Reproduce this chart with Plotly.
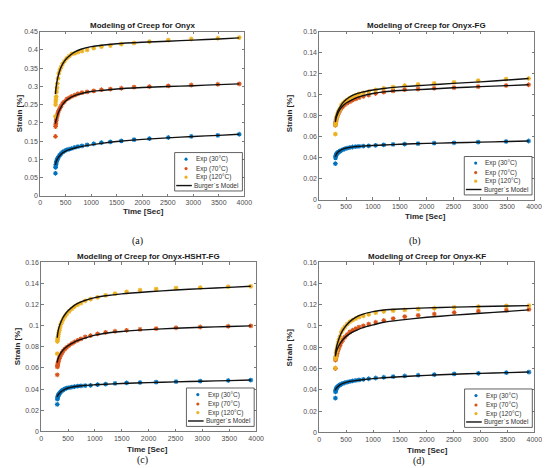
import plotly.graph_objects as go

W, H = 550, 468

# sample times [s]
time_exp = [300, 302, 305, 309, 314, 320, 328, 338, 350, 365, 385, 410, 440, 475, 520,
            570, 620, 680, 740, 820, 920, 1050, 1200, 1375, 1590, 1840, 2140, 2510, 2960, 3480, 3900]
time_fit = [300, 310, 325, 350, 400, 450, 500, 600, 700, 800, 1000, 1200, 1500, 2000, 2500, 3000, 3500, 3900]

# (a) Onyx
onyx_30 = [0.062, 0.078, 0.082, 0.086, 0.090, 0.094, 0.098, 0.101, 0.104, 0.108, 0.112, 0.116, 0.120, 0.123, 0.126,
           0.128, 0.130, 0.133, 0.135, 0.137, 0.140, 0.143, 0.146, 0.148, 0.151, 0.154, 0.157, 0.160, 0.163, 0.166, 0.169]
onyx_70 = [0.163, 0.190, 0.195, 0.200, 0.206, 0.211, 0.217, 0.222, 0.228, 0.234, 0.240, 0.246, 0.254, 0.258, 0.265,
           0.269, 0.273, 0.276, 0.280, 0.283, 0.285, 0.288, 0.291, 0.2925, 0.295, 0.298, 0.2995, 0.3015, 0.304, 0.306, 0.307]
onyx_120 = [0.218, 0.250, 0.258, 0.265, 0.272, 0.285, 0.296, 0.308, 0.322, 0.336, 0.345, 0.353, 0.362, 0.369, 0.377,
            0.383, 0.389, 0.391, 0.394, 0.397, 0.400, 0.405, 0.409, 0.412, 0.416, 0.419, 0.423, 0.427, 0.430, 0.432, 0.434]
onyx_fit_30 = [0.085, 0.092, 0.098, 0.104, 0.113, 0.119, 0.123, 0.128, 0.132, 0.135, 0.140, 0.144, 0.149, 0.155, 0.159, 0.163, 0.166, 0.169]
onyx_fit_70 = [0.198, 0.207, 0.215, 0.226, 0.241, 0.252, 0.260, 0.270, 0.276, 0.280, 0.286, 0.289, 0.293, 0.297, 0.300, 0.302, 0.305, 0.307]
onyx_fit_120 = [0.279, 0.295, 0.310, 0.327, 0.350, 0.364, 0.374, 0.387, 0.396, 0.402, 0.409, 0.413, 0.417, 0.421, 0.424, 0.427, 0.430, 0.433]

# (b) Onyx-FG
fg_30 = [0.0345, 0.0400, 0.0410, 0.0420, 0.0428, 0.0435, 0.0441, 0.0447, 0.0452, 0.0457, 0.0464, 0.0470, 0.0478, 0.0485, 0.0492,
         0.0498, 0.0503, 0.0506, 0.0509, 0.0511, 0.0514, 0.0518, 0.0523, 0.0527, 0.0531, 0.0535, 0.0539, 0.0543, 0.0549, 0.0555, 0.0560]
fg_70 = [0.0710, 0.0722, 0.0735, 0.0748, 0.0760, 0.0772, 0.0785, 0.0800, 0.0815, 0.0832, 0.0850, 0.0870, 0.0888, 0.0905, 0.0920,
         0.0935, 0.0948, 0.0960, 0.0972, 0.0985, 0.0997, 0.1012, 0.1025, 0.1037, 0.1048, 0.1055, 0.1062, 0.1068, 0.1077, 0.1088, 0.1095]
fg_120 = [0.0625, 0.0712, 0.0722, 0.0735, 0.0765, 0.0780, 0.0795, 0.0810, 0.0830, 0.0850, 0.0865, 0.0900, 0.0918, 0.0935, 0.0952,
          0.0968, 0.0980, 0.0995, 0.1008, 0.1018, 0.1030, 0.1046, 0.1060, 0.1073, 0.1088, 0.1098, 0.1108, 0.1118, 0.1135, 0.1148, 0.1155]
fg_fit_30 = [0.0410, 0.0425, 0.0440, 0.0455, 0.0473, 0.0485, 0.0493, 0.0502, 0.0507, 0.0511, 0.0517, 0.0522, 0.0529, 0.0537, 0.0543, 0.0549, 0.0555, 0.0560]
fg_fit_70 = [0.0740, 0.0770, 0.0795, 0.0828, 0.0870, 0.0900, 0.0922, 0.0950, 0.0972, 0.0990, 0.1012, 0.1027, 0.1040, 0.1053, 0.1066, 0.1077, 0.1087, 0.1095]
fg_fit_120 = [0.0756, 0.0790, 0.0815, 0.0850, 0.0895, 0.0930, 0.0955, 0.0990, 0.1010, 0.1025, 0.1045, 0.1060, 0.1075, 0.1092, 0.1108, 0.1123, 0.1140, 0.1155]

# (c) Onyx-HSHT-FG
hsht_30 = [0.0255, 0.0305, 0.0315, 0.0325, 0.0333, 0.0342, 0.0350, 0.0357, 0.0365, 0.0375, 0.0385, 0.0393, 0.0402, 0.0408, 0.0413,
           0.0418, 0.0423, 0.0427, 0.0430, 0.0432, 0.0435, 0.0441, 0.0447, 0.0453, 0.0458, 0.0462, 0.0466, 0.0471, 0.0475, 0.0481, 0.0484]
hsht_70 = [0.0535, 0.0610, 0.0622, 0.0635, 0.0648, 0.0660, 0.0675, 0.0690, 0.0705, 0.0722, 0.0740, 0.0760, 0.0778, 0.0795, 0.0812,
           0.0830, 0.0845, 0.0860, 0.0875, 0.0893, 0.0906, 0.0922, 0.0936, 0.0947, 0.0956, 0.0964, 0.0972, 0.0980, 0.0987, 0.0994, 0.0998]
hsht_120 = [0.0735, 0.0850, 0.0865, 0.0880, 0.0895, 0.0915, 0.0935, 0.0955, 0.0980, 0.1010, 0.1035, 0.1060, 0.1085, 0.1110, 0.1135,
            0.1158, 0.1180, 0.1198, 0.1213, 0.1235, 0.1250, 0.1268, 0.1287, 0.1303, 0.1320, 0.1335, 0.1345, 0.1355, 0.1360, 0.1368, 0.1372]
hsht_fit_30 = [0.0326, 0.0340, 0.0352, 0.0366, 0.0386, 0.0400, 0.0410, 0.0422, 0.0429, 0.0434, 0.0440, 0.0445, 0.0452, 0.0461, 0.0468, 0.0474, 0.0480, 0.0485]
hsht_fit_70 = [0.0650, 0.0680, 0.0702, 0.0728, 0.0765, 0.0790, 0.0810, 0.0840, 0.0862, 0.0880, 0.0910, 0.0928, 0.0945, 0.0962, 0.0975, 0.0985, 0.0992, 0.0998]
hsht_fit_120 = [0.0885, 0.0930, 0.0970, 0.1010, 0.1070, 0.1110, 0.1140, 0.1185, 0.1215, 0.1235, 0.1265, 0.1282, 0.1300, 0.1320, 0.1337, 0.1350, 0.1362, 0.1373]

# (d) Onyx-KF
kf_30 = [0.0322, 0.0380, 0.0390, 0.0400, 0.0408, 0.0415, 0.0421, 0.0427, 0.0433, 0.0440, 0.0447, 0.0453, 0.0460, 0.0466, 0.0472,
         0.0478, 0.0483, 0.0488, 0.0493, 0.0498, 0.0504, 0.0511, 0.0518, 0.0524, 0.0530, 0.0537, 0.0543, 0.0549, 0.0555, 0.0561, 0.0566]
kf_70 = [0.0600, 0.0680, 0.0690, 0.0700, 0.0712, 0.0725, 0.0740, 0.0757, 0.0775, 0.0795, 0.0818, 0.0845, 0.0870, 0.0895, 0.0920,
         0.0945, 0.0960, 0.0975, 0.0990, 0.1002, 0.1018, 0.1035, 0.1052, 0.1070, 0.1088, 0.1100, 0.1113, 0.1127, 0.1140, 0.1150, 0.1156]
kf_120 = [0.0605, 0.0690, 0.0705, 0.0718, 0.0750, 0.0765, 0.0780, 0.0810, 0.0840, 0.0870, 0.0900, 0.0942, 0.0968, 0.0992, 0.1018,
          0.1040, 0.1055, 0.1070, 0.1084, 0.1095, 0.1110, 0.1125, 0.1136, 0.1145, 0.1152, 0.1160, 0.1167, 0.1176, 0.1183, 0.1189, 0.1192]
kf_fit_30 = [0.0395, 0.0410, 0.0420, 0.0432, 0.0450, 0.0462, 0.0470, 0.0481, 0.0489, 0.0495, 0.0505, 0.0513, 0.0523, 0.0536, 0.0546, 0.0554, 0.0561, 0.0567]
kf_fit_70 = [0.0715, 0.0745, 0.0770, 0.0800, 0.0845, 0.0878, 0.0902, 0.0938, 0.0962, 0.0982, 0.1010, 0.1035, 0.1055, 0.1082, 0.1102, 0.1120, 0.1137, 0.1152]
kf_fit_120 = [0.0730, 0.0770, 0.0810, 0.0855, 0.0925, 0.0970, 0.1005, 0.1055, 0.1088, 0.1110, 0.1135, 0.1150, 0.1160, 0.1170, 0.1177, 0.1183, 0.1188, 0.1192]

legend_labels = ["Exp (30°C)", "Exp (70°C)", "Exp (120°C)", "Burger`s Model"]
colors = ["#0072BD", "#D95319", "#EDB120"]

# box in pixels (left, right, top, bottom), title, y max, sub label + its position
panels = [
    dict(box=(30.7, 238.7, 20, 186.7), title="Modeling of Creep for Onyx", ymax=0.45, dtick=0.05,
         exp=[onyx_30, onyx_70, onyx_120], fit=[onyx_fit_30, onyx_fit_70, onyx_fit_120],
         ylab=(10, 103), xlab=(135.5, 203), tag="(a)", tagpos=(130, 232)),
    dict(box=(315, 533.7, 20, 190.7), title="Modeling of Creep for Onyx-FG", ymax=0.16, dtick=0.02,
         exp=[fg_30, fg_70, fg_120], fit=[fg_fit_30, fg_fit_70, fg_fit_120],
         ylab=(285, 103), xlab=(423, 208), tag="(b)", tagpos=(413, 232)),
    dict(box=(31.7, 250.7, 254, 425.7), title="Modeling of Creep for Onyx-HSHT-FG", ymax=0.16, dtick=0.02,
         exp=[hsht_30, hsht_70, hsht_120], fit=[hsht_fit_30, hsht_fit_70, hsht_fit_120],
         ylab=(8.5, 339), xlab=(140.5, 444), tag="(c)", tagpos=(135, 455)),
    dict(box=(315, 534, 254, 426.7), title="Modeling of Creep for Onyx-KF", ymax=0.16, dtick=0.02,
         exp=[kf_30, kf_70, kf_120], fit=[kf_fit_30, kf_fit_70, kf_fit_120],
         ylab=(285, 340.7), xlab=(425.5, 445), tag="(d)", tagpos=(417, 456)),
]


def px(x):
    return x / W


def py(y):
    return 1 - y / H


fig = go.Figure()
annotations = []
shapes = []
font = "Liberation Sans, Arial, sans-serif"

for i, p in enumerate(panels):
    n = "" if i == 0 else str(i + 1)
    xa, ya = "x" + n, "y" + n
    l, r, t, b = p["box"]

    for vals, c in zip(p["exp"], colors):
        fig.add_trace(go.Scatter(x=time_exp, y=vals, mode="markers", xaxis=xa, yaxis=ya, showlegend=False,
                                 marker=dict(symbol="asterisk-open", size=4, color=c, line=dict(width=1.1, color=c))))
    for vals in p["fit"]:
        fig.add_trace(go.Scatter(x=time_fit, y=vals, mode="lines", xaxis=xa, yaxis=ya, showlegend=False,
                                 line=dict(color="#111111", width=1.4, shape="spline", smoothing=0.6)))

    axis_style = dict(showline=True, linecolor="#7a7a7a", linewidth=0.8, mirror="ticks", ticks="inside",
                      ticklen=2.5, tickcolor="#7a7a7a", showgrid=False, zeroline=False,
                      tickfont=dict(family=font, size=7, color="#4d4d4d"))
    fig.update_layout({
        "xaxis" + n: dict(domain=[px(l), px(r)], range=[0, 4000], dtick=500, anchor=ya,
                          exponentformat="none", **axis_style),
        "yaxis" + n: dict(domain=[py(b), py(t)], range=[0, p["ymax"]], dtick=p["dtick"], anchor=xa,
                          **axis_style),
    })

    annotations.append(dict(text="<b>" + p["title"] + "</b>", x=px((l + r) / 2), y=py(t - 6),
                            font=dict(family=font, size=8, color="#1a1a1a")))
    annotations.append(dict(text="<b>Strain [%]</b>", x=px(p["ylab"][0]), y=py(p["ylab"][1]), textangle=-90,
                            font=dict(family=font, size=8, color="#262626")))
    annotations.append(dict(text="<b>Time [Sec]</b>", x=px(p["xlab"][0]), y=py(p["xlab"][1]),
                            font=dict(family=font, size=8, color="#262626")))
    annotations.append(dict(text=p["tag"], x=px(p["tagpos"][0]), y=py(p["tagpos"][1]),
                            font=dict(family="Liberation Serif, Times New Roman, serif", size=10, color="#111111")))

    # legend box in the lower right corner of each axes
    lr, lb = r - 2, b - 5
    ll, lt = lr - 69, lb - 39
    shapes.append(dict(type="rect", x0=px(ll), x1=px(lr), y0=py(lb), y1=py(lt),
                       line=dict(color="#3a3a3a", width=0.8), fillcolor="white", layer="above"))
    rows = [lt + 6.7, lt + 16.3, lt + 25, lt + 33.5]
    for k, c in enumerate(colors):
        cx, cy = ll + 11.6, rows[k]
        shapes.append(dict(type="circle", x0=px(cx - 1.6), x1=px(cx + 1.6), y0=py(cy + 1.6), y1=py(cy - 1.6),
                           line=dict(width=0), fillcolor=c, layer="above"))
    shapes.append(dict(type="line", x0=px(ll + 1.6), x1=px(ll + 17.5), y0=py(rows[3]), y1=py(rows[3]),
                       line=dict(color="#111111", width=1.4), layer="above"))
    for k, lab in enumerate(legend_labels):
        annotations.append(dict(text=lab, x=px(ll + (19.5 if k < 3 else 18)), y=py(rows[k]), xanchor="left",
                                font=dict(family=font, size=6.5, color="#333333")))

for a in annotations:
    a.update(xref="paper", yref="paper", showarrow=False, yanchor=a.get("yanchor", "middle"),
             xanchor=a.get("xanchor", "center"))
for s in shapes:
    s.update(xref="paper", yref="paper")

fig.update_layout(width=W, height=H, margin=dict(l=0, r=0, t=0, b=0), paper_bgcolor="white",
                  plot_bgcolor="white", showlegend=False, annotations=annotations, shapes=shapes)

fig.write_html("out.html")
